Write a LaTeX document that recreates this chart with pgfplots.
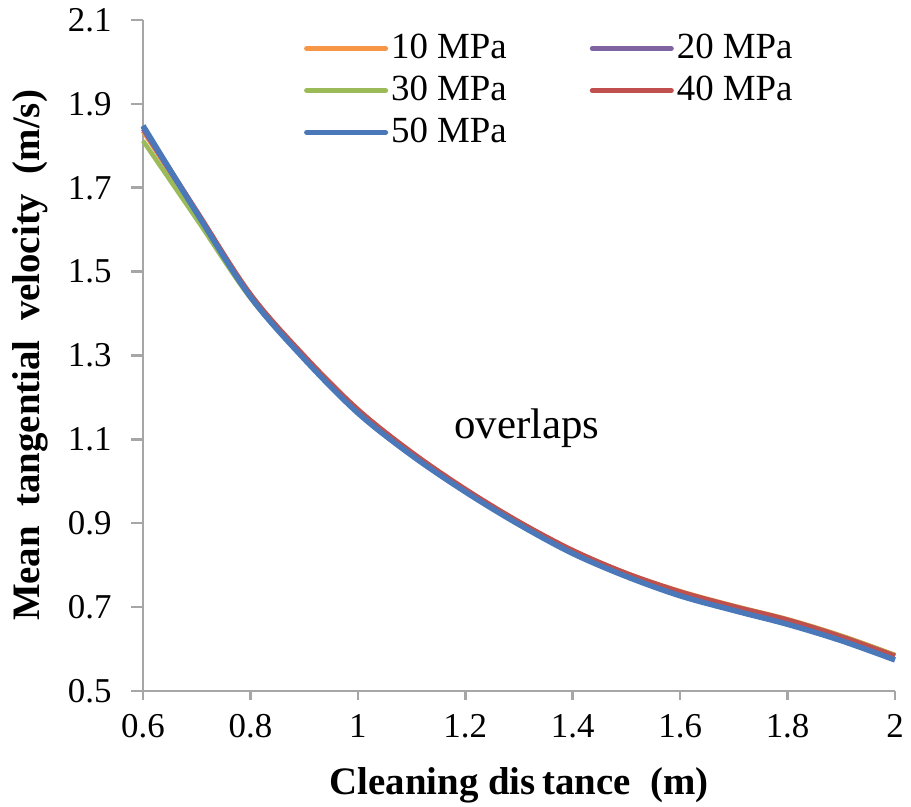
\documentclass[border=0pt]{standalone}
\usepackage{fontspec}
\setmainfont{Liberation Serif}
\usepackage{pgfplots}
\pgfplotsset{compat=1.18}

\definecolor{c10}{HTML}{F79646}
\definecolor{c20}{HTML}{8064A2}
\definecolor{c30}{HTML}{9BBB59}
\definecolor{c40}{HTML}{C0504D}
\definecolor{c50}{HTML}{4A78B8}
\definecolor{axgray}{HTML}{A6A6A6}

\begin{document}
\begin{tikzpicture}
\useasboundingbox (-143bp,-116bp) rectangle (768bp,691bp);
\begin{axis}[
  scale only axis,
  width=752bp, height=671bp,
  xmin=0.6, xmax=2, ymin=0.5, ymax=2.1,
  xtick={0.6,0.8,...,2.0},
  ytick={0.5,0.7,...,2.1},
  xticklabels={0.6,0.8,1,1.2,1.4,1.6,1.8,2},
  yticklabels={0.5,0.7,0.9,1.1,1.3,1.5,1.7,1.9,2.1},
  axis x line*=bottom, axis y line*=left,
  axis line style={axgray, line width=2.5bp},
  tick style={axgray, line width=2.5bp},
  tick align=outside,
  major tick length=12bp,
  xtick style={/pgfplots/major tick length=9bp},
  /pgf/number format/assume math mode=true,
  tick label style={font=\fontsize{35}{42}\selectfont},
  xticklabel style={yshift=-8bp},
  yticklabel style={xshift=-16bp},
  xlabel={\textbf{Cleaning dis\,tance\ \ (m)}},
  ylabel={\textbf{Mean\ \ tangential\ \ velocity\ \ (m/s)}},
  label style={font=\fontsize{39}{46}\selectfont},
  xlabel style={at={(axis description cs:0.5,-0.1729)}, anchor=south},
  ylabel style={at={(axis description cs:-0.178,0.5)}, anchor=north},
  legend columns=2,
  legend style={draw=none, fill=none, at={(0.21,0.992)}, anchor=north west,
    font=\fontsize{37}{41}\selectfont,
    nodes={inner sep=3bp, text depth=8bp, text height=28bp},
    /tikz/every even column/.append style={column sep=80bp}},
  legend image code/.code={\draw[#1, line width=5bp, line cap=round] (0bp,0bp) -- (79bp,0bp);},
  every axis plot/.append style={smooth, tension=0.55},
  clip=false,
]
% 10 MPa
\addplot[c10, line width=4.5bp] coordinates {
  (0.6,1.835) (0.7,1.638) (0.8,1.443) (0.9,1.296) (1.0,1.168) (1.1,1.067)
  (1.2,0.980) (1.3,0.903) (1.4,0.835) (1.5,0.781) (1.6,0.738) (1.7,0.703)
  (1.8,0.671) (1.9,0.632) (2.0,0.586)};
\addlegendentry{10 MPa}
% 20 MPa
\addplot[c20, line width=4.5bp] coordinates {
  (0.6,1.840) (0.7,1.640) (0.8,1.444) (0.9,1.297) (1.0,1.169) (1.1,1.067)
  (1.2,0.980) (1.3,0.902) (1.4,0.834) (1.5,0.780) (1.6,0.736) (1.7,0.701)
  (1.8,0.669) (1.9,0.630) (2.0,0.584)};
\addlegendentry{20 MPa}
% 30 MPa
\addplot[c30, line width=4.5bp] coordinates {
  (0.6,1.812) (0.7,1.625) (0.8,1.437) (0.9,1.293) (1.0,1.166) (1.1,1.066)
  (1.2,0.979) (1.3,0.902) (1.4,0.834) (1.5,0.780) (1.6,0.736) (1.7,0.702)
  (1.8,0.670) (1.9,0.631) (2.0,0.585)};
\addlegendentry{30 MPa}
% 40 MPa
\addplot[c40, line width=4.5bp] coordinates {
  (0.6,1.845) (0.7,1.645) (0.8,1.447) (0.9,1.300) (1.0,1.172) (1.1,1.070)
  (1.2,0.982) (1.3,0.904) (1.4,0.836) (1.5,0.781) (1.6,0.737) (1.7,0.702)
  (1.8,0.670) (1.9,0.630) (2.0,0.584)};
\addlegendentry{40 MPa}
% 50 MPa
\addplot[c50, line width=5.5bp] coordinates {
  (0.6,1.848) (0.7,1.640) (0.8,1.440) (0.9,1.292) (1.0,1.163) (1.1,1.062)
  (1.2,0.975) (1.3,0.897) (1.4,0.828) (1.5,0.773) (1.6,0.727) (1.7,0.692)
  (1.8,0.659) (1.9,0.620) (2.0,0.574)};
\addlegendentry{50 MPa}

\node[font=\fontsize{43}{50}\selectfont] at (axis cs:1.315,1.127) {overlaps};
\end{axis}
\end{tikzpicture}
\end{document}
